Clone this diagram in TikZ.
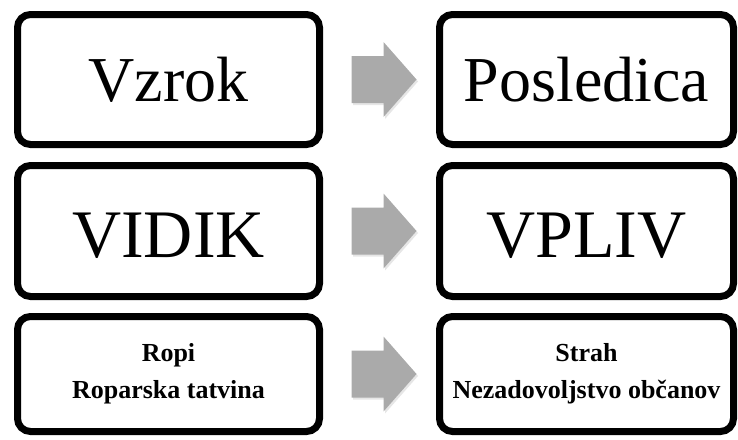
\documentclass[tikz,border=0pt]{standalone}
\usepackage{fontspec}
\setmainfont{Liberation Serif}
\usetikzlibrary{shadows}
\definecolor{pfeilgrau}{RGB}{170,170,170}
\tikzset{
  kasten/.style={draw=black, line width=7pt, rounded corners=13pt, fill=white,
    align=center, inner sep=0pt,
    drop shadow={opacity=0.25, shadow xshift=1.5pt, shadow yshift=-2pt}},
  links/.style={kasten, minimum width=302pt},
  rechts/.style={kasten, minimum width=294pt},
  pfeil/.style={fill=pfeilgrau,
    drop shadow={opacity=0.2, shadow xshift=1.5pt, shadow yshift=-2pt}}
}
\begin{document}
\begin{tikzpicture}[x=1pt,y=-1pt]
    \useasboundingbox (0,0) rectangle (738,439);

    % Vrstica 1
    \node[links, minimum height=130pt, font=\fontsize{64}{72}\selectfont] (vzrok) at (168.5,79.5) {Vzrok};
    \node[rechts, minimum height=130pt, font=\fontsize{64}{72}\selectfont] (posledica) at (586.5,79.5) {Posledica};

    % Vrstica 2
    \node[links, minimum height=131pt, text height=52pt, text depth=0pt, font=\fontsize{68}{76}\selectfont] (vidik) at (168.5,231) {VIDIK};
    \node[rechts, minimum height=131pt, text height=52pt, text depth=0pt, font=\fontsize{68}{76}\selectfont] (vpliv) at (586.5,231) {VPLIV};

    % Vrstica 3
    \node[links, minimum height=115pt, font=\fontsize{26}{37}\selectfont\bfseries] (ropi) at (168.5,374) {Ropi\\Roparska tatvina};
    \node[rechts, minimum height=115pt, font=\fontsize{26}{37}\selectfont\bfseries] (strah) at (586.5,374) {Strah\\Nezadovoljstvo občanov};

    % Puščice
    \foreach \a in {vzrok,vidik,ropi} {
        \fill[pfeil] (\a.east) ++(28.5,-23.5) -- ++(32,0) -- ++(0,-14) -- ++(33,37.5)
            -- ++(-33,37.5) -- ++(0,-14) -- ++(-32,0) -- cycle;
    }
\end{tikzpicture}
\end{document}
